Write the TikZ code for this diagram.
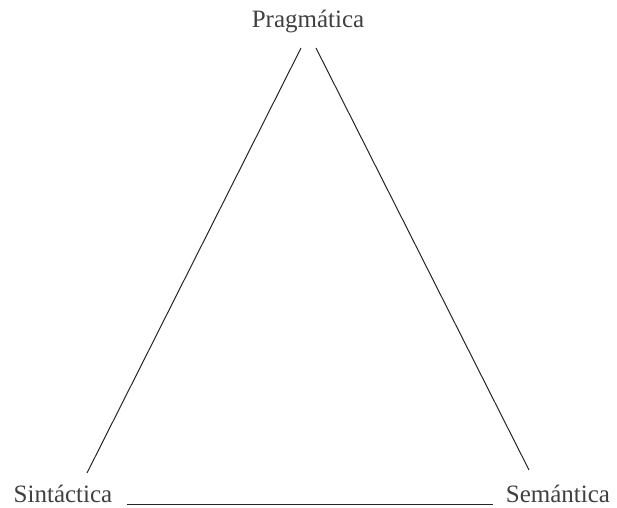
\documentclass[tikz,border=0pt]{standalone}
\usepackage{fontspec}
\setmainfont{Liberation Serif}
\begin{document}
\begin{tikzpicture}[x=1pt,y=1pt,
  lbl/.style={inner sep=0pt, text=black!75, font=\fontsize{25}{27}\selectfont},
  edge/.style={draw=black!85, line width=1pt}]
\useasboundingbox (0,0) rectangle (617,507);
\node[lbl] (prag) at (308,485) {Pragmática};
\node[lbl] (sint) at (63,13) {Sintáctica};
\node[lbl] (sem) at (558,13) {Semántica};
\coordinate (lt) at (301,459);
\coordinate (lb) at (87,34);
\coordinate (rt) at (316,459);
\coordinate (rb) at (529,37);
\coordinate (bl) at (127,3);
\coordinate (br) at (493,3);
\draw[edge] (lt) -- (lb);
\draw[edge] (rt) -- (rb);
\draw[edge] (bl) -- (br);
\end{tikzpicture}
\end{document}
